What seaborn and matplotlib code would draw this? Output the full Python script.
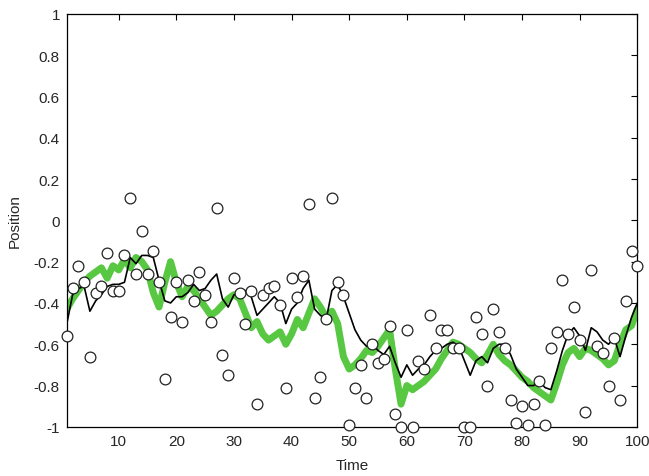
import numpy as np
import pandas as pd
import matplotlib
matplotlib.use("Agg")
import matplotlib.pyplot as plt
import seaborn as sns

# time steps
time = list(range(1, 101))

# noisy observations (open circles)
observed = [
    -0.56, -0.33, -0.22, -0.30, -0.66, -0.35, -0.32, -0.16, -0.34, -0.34,
    -0.17, 0.11, -0.26, -0.05, -0.26, -0.15, -0.30, -0.77, -0.47, -0.30,
    -0.49, -0.29, -0.39, -0.25, -0.36, -0.49, 0.06, -0.65, -0.75, -0.28,
    -0.35, -0.50, -0.34, -0.89, -0.36, -0.33, -0.32, -0.41, -0.81, -0.28,
    -0.37, -0.27, 0.08, -0.86, -0.76, -0.48, 0.11, -0.30, -0.36, -0.99,
    -0.81, -0.70, -0.86, -0.60, -0.69, -0.67, -0.51, -0.94, -1.00, -0.53,
    -1.00, -0.68, -0.72, -0.46, -0.62, -0.53, -0.53, -0.62, -0.62, -1.00,
    -1.00, -0.47, -0.55, -0.80, -0.43, -0.54, -0.62, -0.87, -0.98, -0.90,
    -0.99, -0.89, -0.78, -0.99, -0.62, -0.54, -0.29, -0.55, -0.42, -0.58,
    -0.93, -0.24, -0.61, -0.64, -0.80, -0.57, -0.87, -0.39, -0.15, -0.22,
]

# true position (thick green)
true_pos = [
    -0.43, -0.38, -0.34, -0.30, -0.27, -0.25, -0.23, -0.28, -0.22, -0.24,
    -0.19, -0.23, -0.18, -0.20, -0.24, -0.35, -0.42, -0.30, -0.20, -0.30,
    -0.37, -0.32, -0.34, -0.38, -0.42, -0.46, -0.44, -0.41, -0.38, -0.36,
    -0.38, -0.45, -0.52, -0.49, -0.55, -0.58, -0.56, -0.54, -0.60, -0.55,
    -0.48, -0.52, -0.45, -0.38, -0.42, -0.47, -0.44, -0.50, -0.66, -0.72,
    -0.70, -0.67, -0.63, -0.64, -0.61, -0.57, -0.53, -0.72, -0.89, -0.80,
    -0.82, -0.80, -0.78, -0.75, -0.72, -0.67, -0.63, -0.59, -0.60, -0.62,
    -0.64, -0.67, -0.69, -0.65, -0.60, -0.65, -0.68, -0.70, -0.73, -0.76,
    -0.78, -0.81, -0.83, -0.85, -0.87, -0.79, -0.70, -0.64, -0.62, -0.66,
    -0.62, -0.63, -0.65, -0.67, -0.70, -0.68, -0.60, -0.53, -0.51, -0.43,
]

# filtered estimate (thin black)
estimate = [
    -0.50, -0.36, -0.33, -0.32, -0.44, -0.39, -0.36, -0.32, -0.31, -0.31,
    -0.30, -0.18, -0.21, -0.17, -0.17, -0.18, -0.29, -0.39, -0.40, -0.37,
    -0.37, -0.35, -0.31, -0.34, -0.33, -0.29, -0.26, -0.38, -0.42, -0.36,
    -0.36, -0.34, -0.37, -0.46, -0.43, -0.40, -0.37, -0.40, -0.50, -0.43,
    -0.40, -0.33, -0.29, -0.43, -0.46, -0.48, -0.34, -0.31, -0.37, -0.45,
    -0.53, -0.58, -0.61, -0.60, -0.63, -0.65, -0.61, -0.69, -0.76, -0.70,
    -0.75, -0.72, -0.70, -0.66, -0.63, -0.62, -0.60, -0.59, -0.61, -0.68,
    -0.75, -0.68, -0.66, -0.69, -0.62, -0.60, -0.60, -0.65, -0.72, -0.76,
    -0.80, -0.80, -0.78, -0.81, -0.82, -0.73, -0.63, -0.55, -0.52, -0.56,
    -0.63, -0.52, -0.54, -0.58, -0.60, -0.57, -0.66, -0.56, -0.47, -0.40,
]

df = pd.DataFrame({"Time": time, "obs": observed, "true": true_pos, "est": estimate})

sns.set_style("white")
plt.rcParams["font.family"] = ["Liberation Sans", "DejaVu Sans"]
plt.rcParams["axes.unicode_minus"] = False

fig = plt.figure(figsize=(6.49, 4.77), dpi=100)
ax = fig.add_axes([0.103, 0.103, 0.879, 0.866])

sns.lineplot(data=df, x="Time", y="true", color="#58c843", linewidth=5, ax=ax)
sns.lineplot(data=df, x="Time", y="est", color="black", linewidth=1.2, ax=ax)
sns.scatterplot(data=df, x="Time", y="obs", facecolor="white", edgecolor="#222222",
                linewidth=0.9, s=60, marker="o", ax=ax, clip_on=False, zorder=3)

ax.set_xlim(1, 100)
ax.set_ylim(-1, 1)
ax.set_xticks(range(10, 101, 10))
ax.set_yticks(np.round(np.arange(-1, 1.01, 0.2), 1))
ax.set_yticklabels(["-1", "-0.8", "-0.6", "-0.4", "-0.2", "0", "0.2", "0.4", "0.6", "0.8", "1"])
ax.set_xlabel("Time", fontsize=11, labelpad=7)
ax.set_ylabel("Position", fontsize=11, labelpad=9)
ax.tick_params(direction="in", length=4, width=0.8, labelsize=11,
               top=True, right=True, color="black", pad=5)
for s in ax.spines.values():
    s.set_color("black")
    s.set_linewidth(0.9)

fig.savefig("out.png", dpi=100)
